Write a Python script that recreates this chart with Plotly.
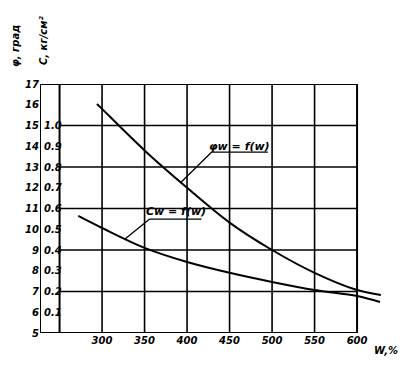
import plotly.graph_objects as go

# Data
w_phi = [294, 300, 350, 400, 450, 500, 550, 600, 628]
phi_vals = [16.04, 15.8, 13.8, 12.0, 10.32, 9.0, 7.9, 7.07, 6.83]

w_c = [272, 300, 350, 400, 450, 500, 550, 600, 627]
c_vals = [0.564, 0.506, 0.41, 0.342, 0.29, 0.246, 0.207, 0.178, 0.149]

x_ticks = [300, 350, 400, 450, 500, 550, 600]
phi_ticks = list(range(5, 18))
c_ticks = [1.0, 0.9, 0.8, 0.7, 0.6, 0.5, 0.4, 0.3, 0.2, 0.1]
c_tick_labels = ["1.0", "0.9", "0.8", "0.7", "0.6", "0.5", "0.4", "0.3", "0.2", "0.1"]

XMIN, XMAX = 227, 650.5
FONT = dict(family="DejaVu Sans", size=11, color="black", style="italic", weight="bold")

fig = go.Figure()
fig.add_trace(go.Scatter(x=w_phi, y=phi_vals, mode="lines",
                         line=dict(color="black", width=2, shape="spline"),
                         showlegend=False, hoverinfo="skip"))
fig.add_trace(go.Scatter(x=w_c, y=c_vals, mode="lines", yaxis="y2",
                         line=dict(color="black", width=2, shape="spline"),
                         showlegend=False, hoverinfo="skip"))

shapes = []
for xv in x_ticks[:-1]:
    shapes.append(dict(type="line", xref="x", yref="y", x0=xv, x1=xv, y0=5, y1=17,
                       line=dict(color="black", width=1.6)))
for yv in [7, 9, 11, 13, 15]:
    shapes.append(dict(type="line", xref="x", yref="y", x0=250, x1=600, y0=yv, y1=yv,
                       line=dict(color="black", width=1.6)))
shapes.append(dict(type="rect", xref="x", yref="y", x0=XMIN, x1=600, y0=5, y1=17,
                   line=dict(color="black", width=2)))
shapes.append(dict(type="line", xref="x", yref="y", x0=250, x1=250, y0=5, y1=17,
                   line=dict(color="black", width=2)))
shapes.append(dict(type="line", xref="x", yref="y", x0=429, x1=495, y0=13.72, y1=13.72,
                   line=dict(color="black", width=1.3)))
shapes.append(dict(type="line", xref="x", yref="y", x0=429, x1=392, y0=13.72, y1=12.23,
                   line=dict(color="black", width=1.3)))
shapes.append(dict(type="line", xref="x", yref="y", x0=356, x1=417, y0=10.49, y1=10.49,
                   line=dict(color="black", width=1.3)))
shapes.append(dict(type="line", xref="x", yref="y", x0=356, x1=327, y0=10.49, y1=9.53,
                   line=dict(color="black", width=1.3)))

annotations = []
for v, lab in zip(c_ticks, c_tick_labels):
    annotations.append(dict(x=XMIN, y=v, xref="x", yref="y2", text=lab, showarrow=False,
                            xanchor="left", yanchor="middle", xshift=2, font=dict(FONT, size=10)))
annotations += [
    dict(x=462, y=14.0, xref="x", yref="y", text="φw = f(w)", showarrow=False,
         xanchor="center", yanchor="middle", font=dict(FONT, size=11)),
    dict(x=387, y=10.85, xref="x", yref="y", text="Cw = f(w)", showarrow=False,
         xanchor="center", yanchor="middle", font=dict(FONT, size=11)),
]

# page has an 8px body margin; compensate so the chart lands where the reference has it
OFF = 8
W, H = 410 - OFF, 365 - OFF
ML, MR, MT, MB = 40 - OFF, 10, 84 - OFF, 32
pw, ph = W - ML - MR, H - MT - MB

def px_ann(px, py, text, angle=0, size=11):
    px -= OFF
    py -= OFF
    return dict(xref="paper", yref="paper", x=(px - ML) / pw, y=(H - MB - py) / ph,
                xanchor="center", yanchor="middle", text=text, showarrow=False,
                textangle=angle, font=dict(FONT, size=size))

annotations += [
    px_ann(386, 350, "W,%", size=10),
    px_ann(15, 46, "φ, град", -90, 10),
    px_ann(43, 41, "C, кг/см²", -90, 10),
]

fig.update_layout(
    width=W, height=H,
    margin=dict(l=ML, r=MR, t=MT, b=MB, autoexpand=False),
    paper_bgcolor="white", plot_bgcolor="white",
    xaxis=dict(range=[XMIN, XMAX], showgrid=False, zeroline=False, showline=False,
               tickvals=x_ticks, ticktext=[str(v) for v in x_ticks], ticks="",
               tickfont=dict(FONT, size=10), fixedrange=True, automargin=False),
    yaxis=dict(range=[5, 17], showgrid=False, zeroline=False, showline=False,
               tickvals=phi_ticks, ticktext=[str(v) for v in phi_ticks], ticks="",
               tickfont=dict(FONT, size=10), fixedrange=True, automargin=False),
    yaxis2=dict(range=[0, 1.2], overlaying="y", side="left", visible=False,
                fixedrange=True, automargin=False),
    shapes=shapes, annotations=annotations, showlegend=False,
)
fig.write_html("out.html")
